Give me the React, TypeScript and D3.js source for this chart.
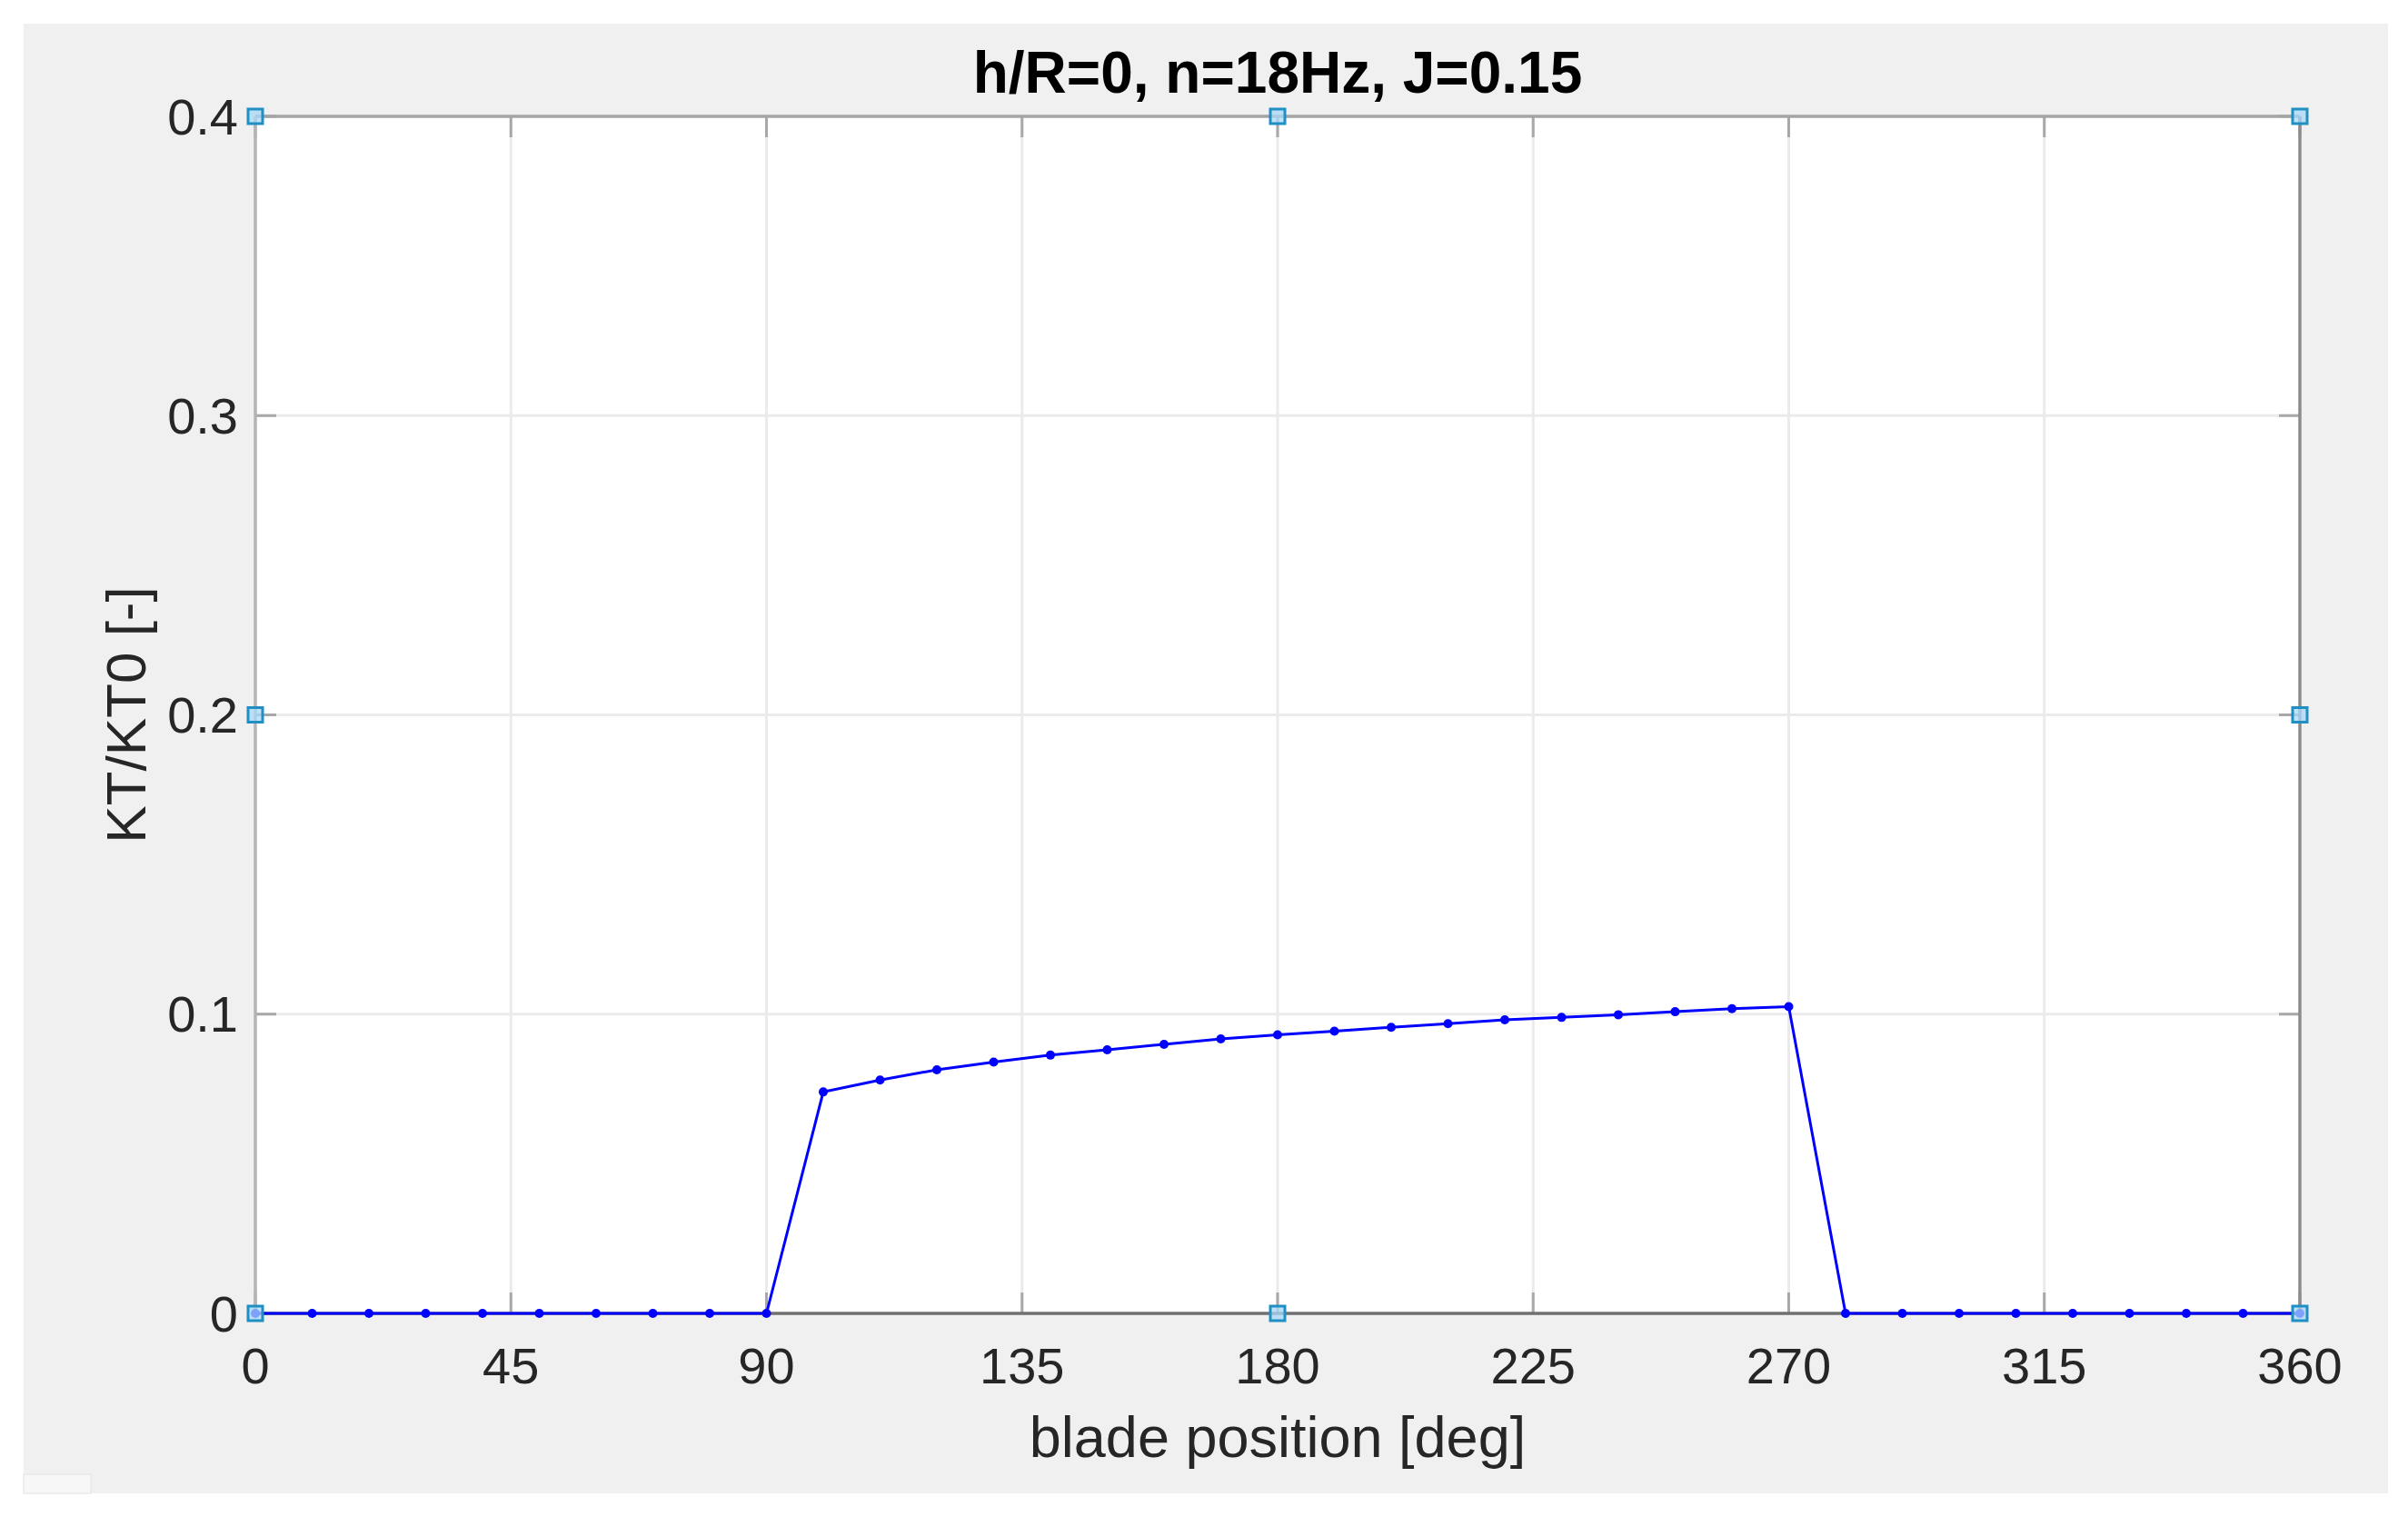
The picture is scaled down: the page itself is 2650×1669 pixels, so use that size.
import React from 'react';
import * as d3 from 'd3';

const bladeAngles = [0, 10, 20, 30, 40, 50, 60, 70, 80, 90, 100, 110, 120, 130, 140, 150, 160, 170, 180,
  190, 200, 210, 220, 230, 240, 250, 260, 270, 280, 290, 300, 310, 320, 330, 340, 350, 360];
const ktRatio = [0, 0, 0, 0, 0, 0, 0, 0, 0, 0,
  0.074, 0.078, 0.0814, 0.084, 0.0863, 0.0881, 0.0899, 0.0917, 0.0931, 0.0943, 0.0956, 0.0968,
  0.0981, 0.0989, 0.0998, 0.1008, 0.1018, 0.1025,
  0, 0, 0, 0, 0, 0, 0, 0, 0];
const xTicks = [0, 45, 90, 135, 180, 225, 270, 315, 360];
const yTicks = [0, 0.1, 0.2, 0.3, 0.4];
const handleX = [0, 180, 360, 0, 360, 0, 180, 360];
const handleY = [0, 0, 0, 0.2, 0.2, 0.4, 0.4, 0.4];

const W = 2650, H = 1669;
const left = 281, right = 2531, top = 128, bottom = 1445;
const font = '"Liberation Sans", Arial, Helvetica, sans-serif';

export default function App() {
  const x = d3.scaleLinear().domain([0, 360]).range([left, right]);
  const y = d3.scaleLinear().domain([0, 0.4]).range([bottom, top]);
  const pts = bladeAngles.map((a, i) => [a, ktRatio[i]] as [number, number]);
  const line = d3.line<[number, number]>().x(d => x(d[0])).y(d => y(d[1]));
  const tickLen = 23;
  const fmt = (v: number) => (v === 0 ? '0' : d3.format('.1f')(v));

  return (
    <svg width={W} height={H} style={{ position: 'absolute', left: 0, top: 0, background: '#fff' }}>
      <rect x={26} y={26} width={2602} height={1617} fill="#f0f0f0" />
      <rect x={26} y={1622} width={74} height={21} fill="#f7f7f7" stroke="#e2e2e2" strokeWidth={1} />
      <rect x={left} y={top} width={right - left} height={bottom - top} fill="#fff" />

      {/* grid */}
      <g stroke="#ebebeb" strokeWidth={3}>
        {xTicks.slice(1, -1).map(t => <line key={'gx' + t} x1={x(t)} x2={x(t)} y1={top} y2={bottom} />)}
        {yTicks.slice(1, -1).map(t => <line key={'gy' + t} x1={left} x2={right} y1={y(t)} y2={y(t)} />)}
      </g>

      {/* ticks */}
      <g stroke="#a8a8a8" strokeWidth={3}>
        {xTicks.map(t => (
          <g key={'tx' + t}>
            <line x1={x(t)} x2={x(t)} y1={bottom} y2={bottom - tickLen} />
            <line x1={x(t)} x2={x(t)} y1={top} y2={top + tickLen} />
          </g>
        ))}
        {yTicks.map(t => (
          <g key={'ty' + t}>
            <line x1={left} x2={left + tickLen} y1={y(t)} y2={y(t)} />
            <line x1={right} x2={right - tickLen} y1={y(t)} y2={y(t)} />
          </g>
        ))}
      </g>

      {/* box */}
      <line x1={left} x2={right} y1={top} y2={top} stroke="#a4a4a4" strokeWidth={3.5} />
      <line x1={left} x2={left} y1={top} y2={bottom} stroke="#b4b4b4" strokeWidth={3.5} />
      <line x1={right} x2={right} y1={top} y2={bottom} stroke="#8c8c8c" strokeWidth={3.5} />
      <line x1={left} x2={right} y1={bottom} y2={bottom} stroke="#707070" strokeWidth={3.5} />

      {/* data */}
      <path d={line(pts) ?? ''} fill="none" stroke="#0000ff" strokeWidth={3} />
      {pts.map((p, i) => (
        <circle key={'p' + i} cx={x(p[0])} cy={y(p[1])} r={5} fill="#0000ff" />
      ))}

      {/* selection handles */}
      {handleX.map((hx, i) => (
        <rect key={'h' + i} x={x(hx) - 8} y={y(handleY[i]) - 8} width={16} height={16}
          fill="#a8d8f8" fillOpacity={0.75} stroke="#1f8fc4" strokeWidth={3} />
      ))}

      {/* tick labels */}
      <g fontFamily={font} fontSize={56} fill="#262626">
        {xTicks.map(t => (
          <text key={'lx' + t} x={x(t)} y={1522} textAnchor="middle">{t}</text>
        ))}
        {yTicks.map(t => (
          <text key={'ly' + t} x={262} y={y(t)} dy="0.35em" textAnchor="end">{fmt(t)}</text>
        ))}
      </g>

      <text x={(left + right) / 2} y={1603} textAnchor="middle" fontFamily={font} fontSize={63} fill="#262626">
        blade position [deg]
      </text>
      <text transform={`translate(160,${(top + bottom) / 2}) rotate(-90)`} textAnchor="middle"
        fontFamily={font} fontSize={62} fill="#262626">
        KT/KT0 [-]
      </text>
      <text x={(left + right) / 2} y={102} textAnchor="middle" fontFamily={font} fontSize={64}
        fontWeight="bold" fill="#000">
        h/R=0, n=18Hz, J=0.15
      </text>
    </svg>
  );
}
